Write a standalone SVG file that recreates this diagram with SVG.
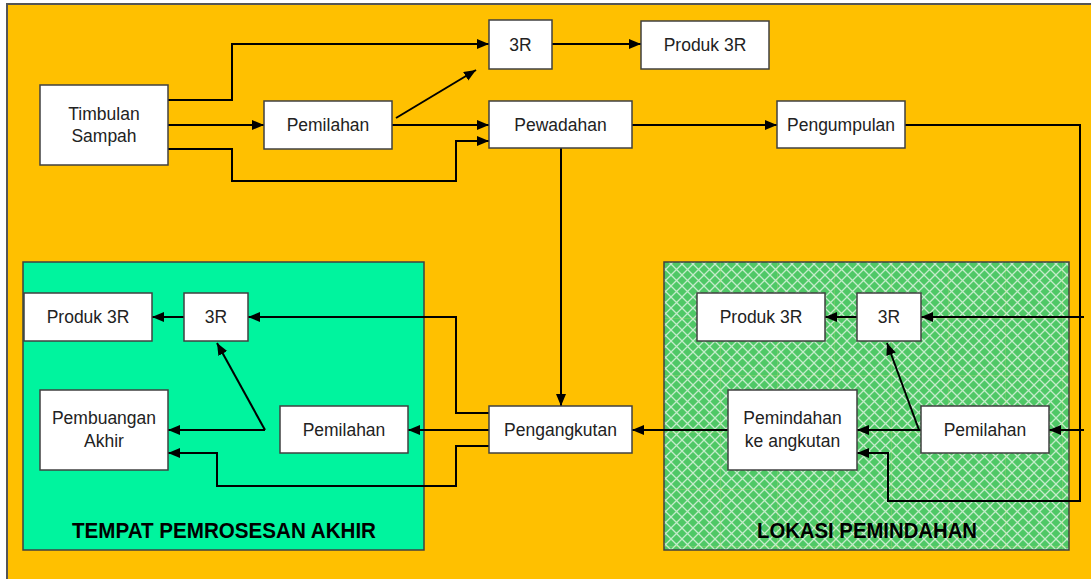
<svg xmlns="http://www.w3.org/2000/svg" width="1091" height="579" viewBox="0 0 1091 579">
<style>
.box{fill:#ffffff;stroke:#404040;stroke-width:1.5}
.lbl{font-family:"Liberation Sans",Arial,sans-serif;font-size:17.5px;fill:#222;text-anchor:middle}
.ttl{font-family:"Liberation Sans",Arial,sans-serif;font-size:22px;font-weight:bold;fill:#000;text-anchor:middle}
.con{fill:none;stroke:#000;stroke-width:2}
.arr{marker-end:url(#ah)}
</style>
<defs>
<marker id="ah" markerUnits="userSpaceOnUse" markerWidth="14" markerHeight="12" refX="12" refY="5" orient="auto">
<path d="M0,0 L12,5 L0,10 z" fill="#000"/>
</marker>
<pattern id="lattice" patternUnits="userSpaceOnUse" width="11" height="11">
<rect width="11" height="11" fill="#4FC866"/>
<path d="M0,0 L11,11 M11,0 L0,11" stroke="#d8f2dc" stroke-width="1.3" fill="none" opacity="0.85"/>
</pattern>
<pattern id="grid" patternUnits="userSpaceOnUse" x="664" y="262" width="57" height="57">
<path d="M57,0 V57 M0,57 H57" stroke="#e8e070" stroke-width="0.8" fill="none" opacity="0.5"/>
</pattern>
</defs>

<rect x="0" y="0" width="1091" height="579" fill="#ffffff"/>
<rect id="frame" x="7" y="4" width="1100" height="600" fill="#FFC000" stroke="#555555" stroke-width="2"/>

<g id="group-tpa">
<rect x="23" y="262" width="401" height="288" fill="#00F49E" stroke="#404040" stroke-width="1.5"/>
<text class="ttl" x="224" y="538" textLength="304" lengthAdjust="spacingAndGlyphs">TEMPAT PEMROSESAN AKHIR</text>
</g>
<g id="group-lp">
<rect x="664" y="262" width="405" height="288" fill="url(#lattice)"/>
<rect x="664" y="262" width="405" height="288" fill="url(#grid)" stroke="#404040" stroke-width="1.5"/>
<text class="ttl" x="867" y="538" textLength="220" lengthAdjust="spacingAndGlyphs">LOKASI PEMINDAHAN</text>
</g>

<g id="connectors">
<path class="con arr" d="M168,100 H232 V44 H489"/>
<path class="con arr" d="M552,44 H641"/>
<path class="con arr" d="M168,125 H264"/>
<path class="con arr" d="M396,118 L476,70"/>
<path class="con arr" d="M392,125 H489"/>
<path class="con arr" d="M168,149 H232 V181 H456 V141 H489"/>
<path class="con arr" d="M632,125 H777"/>
<path class="con arr" d="M561,148 V406"/>
<path class="con arr" d="M905,125 H1080 V501 H888 V453 H857"/>
<path class="con" d="M1080,453 V501"/>
<path class="con arr" d="M1084,317 H921"/>
<path class="con arr" d="M1084,430 H1049"/>
<path class="con arr" d="M857,317 H825"/>
<path class="con arr" d="M921,430 H857"/>
<path class="con arr" d="M919,430 L887,343"/>
<path class="con arr" d="M728,430 H632"/>
<path class="con arr" d="M489,413 H456 V317 H248"/>
<path class="con arr" d="M489,430 H408"/>
<path class="con arr" d="M489,446 H456 V486 H217 V453 H168"/>
<path class="con arr" d="M184,317 H152"/>
<path class="con arr" d="M265,430 H168"/>
<path class="con arr" d="M265,430 L217,343"/>
</g>

<g id="timbulan"><rect class="box" x="40" y="85" width="128" height="80"/><text class="lbl" x="104" y="120">Timbulan</text><text class="lbl" x="104" y="142">Sampah</text></g>
<g id="pemilahan-1"><rect class="box" x="264" y="101" width="128" height="48"/><text class="lbl" x="328" y="131">Pemilahan</text></g>
<g id="3r-1"><rect class="box" x="489" y="20" width="63" height="49"/><text class="lbl" x="520.5" y="51">3R</text></g>
<g id="produk-1"><rect class="box" x="641" y="21" width="128" height="48"/><text class="lbl" x="705" y="51">Produk 3R</text></g>
<g id="pewadahan"><rect class="box" x="489" y="101" width="143" height="47"/><text class="lbl" x="560.5" y="131">Pewadahan</text></g>
<g id="pengumpulan"><rect class="box" x="777" y="101" width="128" height="47"/><text class="lbl" x="841" y="131">Pengumpulan</text></g>
<g id="pengangkutan"><rect class="box" x="489" y="406" width="143" height="47"/><text class="lbl" x="560.5" y="436">Pengangkutan</text></g>

<g id="tpa-produk"><rect class="box" x="24" y="293" width="128" height="48"/><text class="lbl" x="88" y="323">Produk 3R</text></g>
<g id="tpa-3r"><rect class="box" x="184" y="293" width="64" height="48"/><text class="lbl" x="216" y="323">3R</text></g>
<g id="tpa-pembuangan"><rect class="box" x="40" y="390" width="128" height="80"/><text class="lbl" x="104" y="424">Pembuangan</text><text class="lbl" x="104" y="447">Akhir</text></g>
<g id="tpa-pemilahan"><rect class="box" x="280" y="406" width="128" height="47"/><text class="lbl" x="344" y="436">Pemilahan</text></g>

<g id="lp-produk"><rect class="box" x="697" y="293" width="128" height="48"/><text class="lbl" x="761" y="323">Produk 3R</text></g>
<g id="lp-3r"><rect class="box" x="857" y="293" width="64" height="48"/><text class="lbl" x="889" y="323">3R</text></g>
<g id="lp-pemindahan"><rect class="box" x="728" y="390" width="129" height="80"/><text class="lbl" x="792.5" y="424">Pemindahan</text><text class="lbl" x="792.5" y="447">ke angkutan</text></g>
<g id="lp-pemilahan"><rect class="box" x="921" y="406" width="128" height="47"/><text class="lbl" x="985" y="436">Pemilahan</text></g>
</svg>
